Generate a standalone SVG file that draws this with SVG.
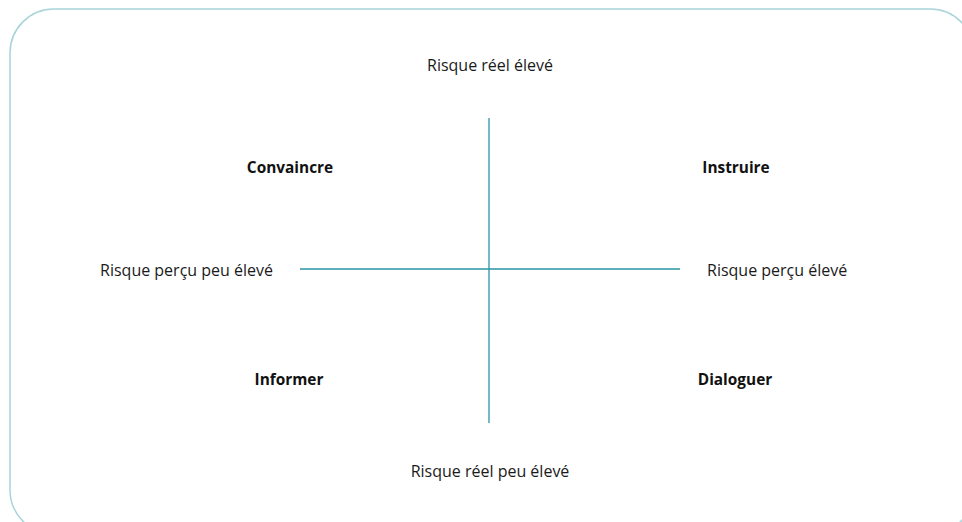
<svg xmlns="http://www.w3.org/2000/svg" width="962" height="522" viewBox="0 0 962 522">
  <style>
    .frame { fill: none; stroke: #a8d4da; stroke-width: 1.5; }
    .axis { fill: none; stroke: #2a93a5; stroke-width: 1.3; }
    .lbl { font-family: "Open Sans", "Liberation Sans", sans-serif; font-size: 16px; fill: #1a1a1a; }
    .q { font-family: "Open Sans", "Liberation Sans", sans-serif; font-size: 15.4px; font-weight: bold; fill: #111; text-anchor: middle; }
  </style>
  <rect width="962" height="522" fill="#ffffff"/>
  <rect class="frame" x="10" y="9" width="964" height="525" rx="44" ry="44"/>

  <g id="connectors">
    <line class="axis" x1="489" y1="118" x2="489" y2="423"/>
    <line class="axis" x1="300" y1="269" x2="680" y2="269"/>
  </g>

  <g id="axis-top"><text class="lbl" x="490" y="71" text-anchor="middle">Risque réel élevé</text></g>
  <g id="axis-bottom"><text class="lbl" x="490" y="477" text-anchor="middle">Risque réel peu élevé</text></g>
  <g id="axis-left"><text class="lbl" x="273" y="276" text-anchor="end">Risque perçu peu élevé</text></g>
  <g id="axis-right"><text class="lbl" x="707" y="276">Risque perçu élevé</text></g>

  <g id="convaincre"><text class="q" x="290" y="173">Convaincre</text></g>
  <g id="instruire"><text class="q" x="736" y="173">Instruire</text></g>
  <g id="informer"><text class="q" x="289" y="385">Informer</text></g>
  <g id="dialoguer"><text class="q" x="735" y="385">Dialoguer</text></g>
</svg>
